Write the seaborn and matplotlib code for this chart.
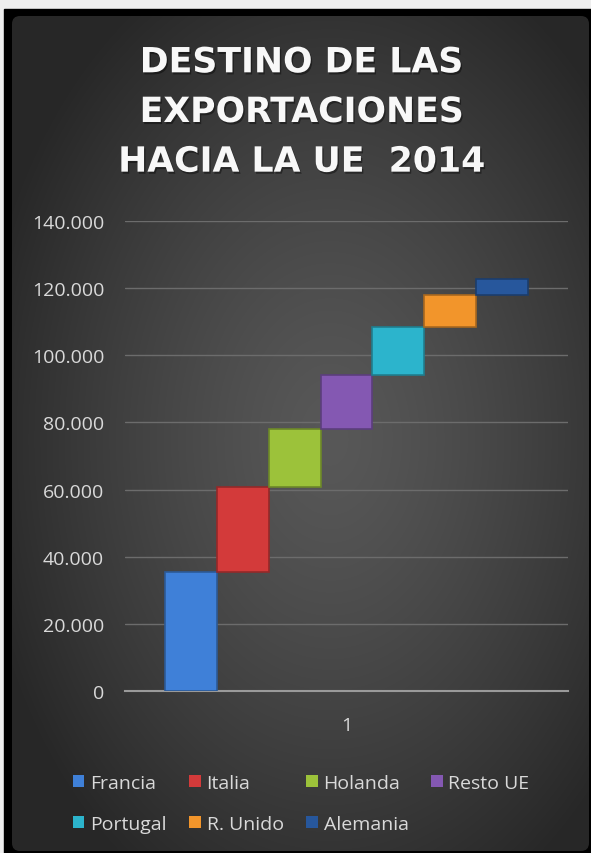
import numpy as np
import pandas as pd
import matplotlib
matplotlib.use("Agg")
import matplotlib.pyplot as plt
import matplotlib.patheffects as pe
from matplotlib.patches import Rectangle, FancyBboxPatch
from matplotlib.ticker import FuncFormatter
from matplotlib.colors import to_rgb
import seaborn as sns

# Data (export values, waterfall layout)
paises = ["Francia", "Italia", "Holanda", "Resto UE", "Portugal", "R. Unido", "Alemania"]
valores = [35500, 25300, 17300, 16000, 14400, 9500, 4700]
colores = ["#3f80d8", "#d33a3a", "#9cc23a", "#8458b2", "#2cb4cc", "#f2952b", "#27579c"]
categoria = ["1"] * len(paises)
y_ticks = [0, 20000, 40000, 60000, 80000, 100000, 120000, 140000]

bases = np.concatenate([[0], np.cumsum(valores)[:-1]])
df = pd.DataFrame({"cat": categoria, "pais": paises, "valor": valores})

sns.set_style("dark")
plt.rcParams["font.family"] = ["Open Sans", "DejaVu Sans"]

W, H = 591, 854
fig = plt.figure(figsize=(W / 100, H / 100), dpi=100)
fig.patch.set_facecolor("#eeeeee")

# background: black frame + rounded dark panel with radial gradient
bg = fig.add_axes([0, 0, 1, 1])
bg.set_xlim(0, W)
bg.set_ylim(H, 0)
bg.axis("off")
bg.add_patch(Rectangle((4, 10), W - 4, H - 10, color="black", zorder=0))
yy, xx = np.mgrid[0:H, 0:W]
r = np.sqrt(((xx - 330) / 360.0) ** 2 + ((yy - 440) / 520.0) ** 2)
t = np.clip(r, 0, 1) ** 1.3
c0, c1 = np.array([0x58, 0x58, 0x58]) / 255, np.array([0x27, 0x27, 0x27]) / 255
img = c0[None, None, :] * (1 - t[..., None]) + c1[None, None, :] * t[..., None]
panel = FancyBboxPatch((12, 17), W - 14, H - 19, boxstyle="round,pad=0,rounding_size=8",
                       facecolor="none", edgecolor="none", zorder=1)
bg.add_patch(panel)
im = bg.imshow(img, extent=(0, W, H, 0), aspect="auto", zorder=2)
im.set_clip_path(panel)

# main plot area
ax = fig.add_axes([125 / W, 1 - 692 / H, (568 - 125) / W, (692 - 222) / H])
ax.set_facecolor("none")
sns.barplot(data=df, x="cat", y="valor", hue="pais", hue_order=paises,
            palette=colores, saturation=1, width=0.82, ax=ax, legend=False,
            linewidth=1.2, zorder=3)

# float each bar on the running total (waterfall), darker rim for a bevel look
for patch, base, col in zip(ax.patches, bases, colores):
    patch.set_y(base)
    patch.set_edgecolor(tuple(np.array(to_rgb(col)) * 0.7))

ax.set_xlim(-0.5, 0.5)
ax.set_ylim(0, 140000)
ax.set_yticks(y_ticks)
ax.yaxis.set_major_formatter(FuncFormatter(lambda v, p: f"{int(v):,}".replace(",", ".")))
ax.set_xlabel("")
ax.set_ylabel("")
ax.grid(axis="y", color="#6c6c6c", linewidth=1)
ax.grid(axis="x", visible=False)
for s in ["left", "right", "top"]:
    ax.spines[s].set_visible(False)
ax.spines["bottom"].set_color("#9a9a9a")
ax.spines["bottom"].set_linewidth(1.5)
ax.tick_params(axis="y", length=0, pad=15, labelsize=14, labelcolor="#d9d9d9")
ax.tick_params(axis="x", length=0, pad=18, labelsize=14, labelcolor="#d9d9d9")

# title
shadow = [pe.withSimplePatchShadow(offset=(1, -1.5), shadow_rgbFace="black", alpha=0.4)]
fig.text(302 / W, 1 - 113 / H, "DESTINO DE LAS\nEXPORTACIONES\nHACIA LA UE  2014",
         ha="center", va="center", color="#f8f8f8", fontsize=25, fontweight="bold",
         family="DejaVu Sans", linespacing=1.58, path_effects=shadow)

# legend laid out row-wise like the original (matplotlib fills column-wise)
handles = [Rectangle((0, 0), 1, 1, facecolor=c, edgecolor="none") for c in colores]
order = [0, 4, 1, 5, 2, 6, 3]
leg = fig.legend([handles[i] for i in order], [paises[i] for i in order],
                 ncol=4, loc="upper left", bbox_to_anchor=(63 / W, 1 - 765 / H),
                 frameon=False, fontsize=14, labelcolor="#d9d9d9",
                 handlelength=0.6, handleheight=0.6, handletextpad=0.3,
                 columnspacing=1.15, labelspacing=1.2, borderpad=0)

fig.savefig("out.png", dpi=100, facecolor=fig.get_facecolor())
